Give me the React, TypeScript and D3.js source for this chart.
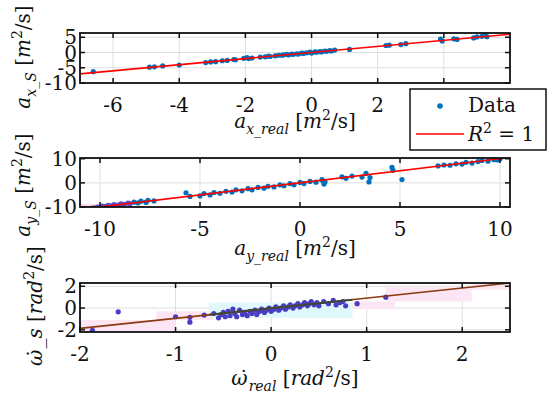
import React from 'react';
import * as d3 from 'd3';

// panel 1: a_x
const axReal = [-6.6, -4.9, -4.75, -4.5, -4.0, -3.2, -3.05, -2.9, -2.7, -2.55, -2.35, -2.3, -2.05, -1.95, -1.9, -1.8, -1.55, -1.4, -1.3, -1.25, -1.1, -1.0, -0.9, -0.85, -0.75, -0.7, -0.6, -0.55, -0.45, -0.4, -0.3, -0.25, -0.15, -0.05, 0.0, 0.1, 0.15, 0.25, 0.3, 0.4, 0.45, 0.55, 0.6, 0.7, 1.15, 2.25, 2.35, 2.7, 2.85, 3.9, 3.95, 4.3, 4.4, 4.9, 5.0, 5.15, 5.25, 5.3];
const axSim = [-6.3, -4.8, -4.7, -4.4, -4.1, -3.3, -3.1, -3.0, -2.7, -2.6, -2.3, -2.4, -1.9, -1.7, -2.0, -1.8, -1.5, -1.4, -1.2, -1.3, -1.1, -0.9, -0.9, -0.8, -0.6, -0.8, -0.5, -0.6, -0.4, -0.5, -0.2, -0.3, -0.1, 0.1, -0.2, 0.2, 0.1, 0.3, 0.2, 0.5, 0.4, 0.6, 0.5, 0.8, 1.0, 2.3, 2.4, 2.6, 2.9, 4.4, 3.8, 4.5, 4.3, 4.8, 5.1, 5.3, 5.6, 5.2];

// panel 2: a_y
const ayReal = [-10.1, -9.9, -9.75, -9.6, -9.45, -9.3, -9.1, -8.95, -8.8, -8.6, -8.5, -8.3, -8.1, -7.95, -7.7, -7.6, -7.3, -5.7, -5.5, -5.0, -4.8, -4.5, -4.3, -4.0, -3.7, -3.4, -3.2, -2.9, -2.6, -2.4, -2.1, -1.8, -1.6, -1.3, -1.0, -0.8, -0.5, -0.3, 0.0, 0.2, 0.5, 0.8, 1.1, 1.15, 1.2, 1.25, 2.1, 2.3, 2.6, 3.1, 3.3, 3.45, 3.5, 4.6, 4.65, 5.1, 6.9, 7.2, 7.5, 7.8, 8.1, 8.3, 8.6, 8.9, 9.1, 9.4, 9.7, 9.9, 10.0];
const aySim = [-10.0, -9.6, -9.8, -9.3, -9.5, -9.0, -9.2, -8.7, -8.9, -8.4, -8.7, -8.0, -8.3, -7.6, -8.1, -7.2, -7.5, -4.1, -5.6, -5.4, -4.4, -5.0, -4.0, -4.3, -3.5, -3.8, -2.9, -3.3, -2.4, -2.9, -1.9, -2.2, -1.4, -1.7, -0.8, -1.2, -0.3, -0.8, 0.2, -0.3, 0.6, 0.3, 1.3, 0.8, -0.5, 0.4, 2.5, 1.9, 2.8, 2.4, 3.9, 0.4, 2.2, 6.4, 5.2, 1.4, 7.0, 7.4, 7.3, 7.9, 7.8, 8.5, 8.2, 8.8, 9.3, 9.0, 9.6, 9.5, 10.0];

// panel 3: omega dot
const wReal = [-1.87, -1.6, -1.0, -0.85, -0.85, -0.7, -0.6, -0.55, -0.52, -0.5, -0.48, -0.45, -0.43, -0.4, -0.38, -0.36, -0.33, -0.3, -0.28, -0.25, -0.22, -0.2, -0.17, -0.15, -0.12, -0.1, -0.07, -0.05, -0.02, 0.0, 0.03, 0.05, 0.08, 0.1, 0.13, 0.15, 0.18, 0.2, 0.23, 0.25, 0.28, 0.3, 0.33, 0.35, 0.38, 0.4, 0.42, 0.45, 0.48, 0.5, 0.55, 0.6, 0.65, 0.68, 0.72, 0.75, 0.78, 0.9, 1.2];
const wSim = [-2.05, -0.35, -0.8, -0.85, -1.3, -0.65, -0.5, -0.9, -0.6, -0.4, -0.8, -0.3, -0.7, -0.1, -0.5, -0.8, -0.2, -0.6, -0.4, -0.7, -0.3, -0.5, -0.2, -0.6, -0.3, -0.1, -0.4, -0.2, 0.0, -0.3, -0.1, 0.1, -0.2, 0.0, 0.2, -0.1, 0.1, 0.3, 0.0, 0.2, 0.4, 0.1, 0.3, 0.5, 0.2, 0.4, 0.6, 0.3, 0.5, 0.2, 0.6, 0.4, 0.7, 0.3, 0.5, 0.6, 0.2, 0.4, 1.0];

// shaded bands in panel 3 [x0, x1, y0, y1]
const wBandsPink = [[-2, -1, -2.2, -1.1], [-1.2, -0.6, -1.1, -0.3], [0.85, 1.3, -0.1, 0.6], [1.2, 2.1, 0.6, 1.9], [2.1, 2.5, 1.7, 2.3]];
const wBandsCyan = [[-0.65, 0.85, -0.9, 0.5]];

const F = "DejaVu Serif";

type Part = { t: string; s?: 'i' | 'r' | 'sub' | 'sup' | 'subr' | 'supr' | 'dot' };

const MathText = ({ x, y, parts, size, rotate, anchor }: { x: number; y: number; parts: Part[]; size: number; rotate?: boolean; anchor?: string }) => {
  let shift = 0;
  const spans = parts.map((p, i) => {
    const s = p.s || 'r';
    if (s === 'dot') {
      return <tspan key={i} dx={-size * 0.45} dy={-shift} fontSize={size}>{'˙'}</tspan>;
    }
    let target = 0;
    if (s === 'sub' || s === 'subr') target = size * 0.3;
    if (s === 'sup' || s === 'supr') target = -size * 0.4;
    const dy = target - shift;
    shift = target;
    const small = s.startsWith('sub') || s.startsWith('sup');
    const italic = s === 'i' || s === 'sub' || s === 'sup';
    return (
      <tspan key={i} dy={dy} fontSize={small ? size * 0.7 : size} fontStyle={italic ? 'italic' : 'normal'}>{p.t}</tspan>
    );
  });
  return (
    <text x={x} y={y} fontFamily={F} fontSize={size} textAnchor={anchor || 'middle'} fill="#111"
      transform={rotate ? `rotate(-90,${x},${y})` : undefined} style={{ whiteSpace: 'pre' }}>
      {spans}
    </text>
  );
};

const Panel = ({ box, xDom, yDom, xTicks, yTicks, xs, ys, color, fit, lineColor, children }: any) => {
  const x = d3.scaleLinear().domain(xDom).range([box.x0, box.x1]);
  const y = d3.scaleLinear().domain(yDom).range([box.y1, box.y0]);
  const tl = 5;
  const clipId = `c${box.y0}`;
  return (
    <g>
      <defs>
        <clipPath id={clipId}><rect x={box.x0} y={box.y0} width={box.x1 - box.x0} height={box.y1 - box.y0} /></clipPath>
      </defs>
      <rect x={box.x0} y={box.y0} width={box.x1 - box.x0} height={box.y1 - box.y0} fill="#fff" />
      {xTicks.map((t: number) => <line key={'gx' + t} x1={x(t)} x2={x(t)} y1={box.y0} y2={box.y1} stroke="#dedede" strokeWidth={1} />)}
      {yTicks.map((t: number) => <line key={'gy' + t} x1={box.x0} x2={box.x1} y1={y(t)} y2={y(t)} stroke="#dedede" strokeWidth={1} />)}
      <g clipPath={`url(#${clipId})`}>
        {children && children(x, y)}
        {xs.map((v: number, i: number) => <circle key={i} cx={x(v)} cy={y(ys[i])} r={2.6} fill={typeof color === 'function' ? color(v) : color} />)}
        <line x1={x(xDom[0])} y1={y(fit[0])} x2={x(xDom[1])} y2={y(fit[1])} stroke={lineColor} strokeWidth={1.6} />
      </g>
      {xTicks.map((t: number) => (
        <g key={'tx' + t}>
          <line x1={x(t)} x2={x(t)} y1={box.y1} y2={box.y1 - tl} stroke="#111" strokeWidth={1.5} />
          <line x1={x(t)} x2={x(t)} y1={box.y0} y2={box.y0 + tl} stroke="#111" strokeWidth={1.5} />
          <text x={x(t)} y={box.y1 + 29} fontFamily={F} fontSize={20} textAnchor="middle" fill="#111">{t}</text>
        </g>
      ))}
      {yTicks.map((t: number) => (
        <g key={'ty' + t}>
          <line x1={box.x0} x2={box.x0 + tl} y1={y(t)} y2={y(t)} stroke="#111" strokeWidth={1.5} />
          <line x1={box.x1} x2={box.x1 - tl} y1={y(t)} y2={y(t)} stroke="#111" strokeWidth={1.5} />
          <text x={77} y={y(t)} dy="0.35em" fontFamily={F} fontSize={20} textAnchor="end" fill="#111">{t}</text>
        </g>
      ))}
      <rect x={box.x0} y={box.y0} width={box.x1 - box.x0} height={box.y1 - box.y0} fill="none" stroke="#111" strokeWidth={1.8} />
    </g>
  );
};

const App = () => {
  const blue = '#0072BD';
  return (
    <svg width={550} height={398} style={{ position: 'absolute', left: 0, top: 0, background: '#fff' }}>
      <Panel box={{ x0: 80, x1: 510, y0: 33, y1: 83 }} xDom={[-7, 6]} yDom={[-10, 6.4]}
        xTicks={[-6, -4, -2, 0, 2, 4]} yTicks={[-10, -5, 0, 5]} xs={axReal} ys={axSim}
        color={blue} fit={[-7, 6]} lineColor="#ff0000" />
      <Panel box={{ x0: 80, x1: 510, y0: 158, y1: 207 }} xDom={[-11, 10.5]} yDom={[-10, 10.3]}
        xTicks={[-10, -5, 0, 5, 10]} yTicks={[-10, 0, 10]} xs={ayReal} ys={aySim}
        color={(v: number) => (v < -8.4 ? '#5a48c8' : blue)} fit={[-11, 10.5]} lineColor="#ff0000">
        {(x: any, y: any) => (
          <g>
            <rect x={x(-11)} y={y(-8.7)} width={x(-9.6) - x(-11)} height={y(-10) - y(-8.7)} fill="#fbd3ec" opacity={0.8} />
            <line x1={x(-11)} y1={y(-10.4)} x2={x(-7.7)} y2={y(-7.6)} stroke="#4a3e3a" strokeWidth={2} />
          </g>
        )}
      </Panel>
      <Panel box={{ x0: 80, x1: 510, y0: 283, y1: 332 }} xDom={[-2, 2.5]} yDom={[-2.2, 2.3]}
        xTicks={[-2, -1, 0, 1, 2]} yTicks={[-2, 0, 2]} xs={wReal} ys={wSim}
        color="#4b3cc8" fit={[-1.87, 2.3]} lineColor="#8a3a12">
        {(x: any, y: any) => (
          <g>
            {wBandsPink.map((b, i) => <rect key={'p' + i} x={x(b[0])} y={y(b[3])} width={x(b[1]) - x(b[0])} height={y(b[2]) - y(b[3])} fill="#fde6f3" />)}
            {wBandsCyan.map((b, i) => <rect key={'c' + i} x={x(b[0])} y={y(b[3])} width={x(b[1]) - x(b[0])} height={y(b[2]) - y(b[3])} fill="#def8fb" />)}
          </g>
        )}
      </Panel>
      {/* dark overlay on central fit section of panel 3 */}
      {(() => {
        const x = d3.scaleLinear().domain([-2, 2.5]).range([80, 510]);
        const y = d3.scaleLinear().domain([-2.2, 2.3]).range([332, 283]);
        return <line x1={x(-0.65)} y1={y(-0.65 * 0.927 - 0.02)} x2={x(0.85)} y2={y(0.85 * 0.927 - 0.02)} stroke="#3d4a3a" strokeWidth={2} />;
      })()}

      <MathText x={295} y={128} size={20} parts={[{ t: 'a', s: 'i' }, { t: 'x_real', s: 'sub' }, { t: ' [' }, { t: 'm', s: 'i' }, { t: '2', s: 'supr' }, { t: '/s]' }]} />
      <MathText x={295} y={255} size={20} parts={[{ t: 'a', s: 'i' }, { t: 'y_real', s: 'sub' }, { t: ' [' }, { t: 'm', s: 'i' }, { t: '2', s: 'supr' }, { t: '/s]' }]} />
      <MathText x={295} y={385} size={20} parts={[{ t: 'ω', s: 'i' }, { t: '', s: 'dot' }, { t: 'real', s: 'sub' }, { t: ' [' }, { t: 'rad', s: 'i' }, { t: '2', s: 'supr' }, { t: '/s]' }]} />

      <MathText x={30} y={57} size={20} rotate parts={[{ t: 'a', s: 'i' }, { t: 'x_S', s: 'sub' }, { t: ' [' }, { t: 'm', s: 'i' }, { t: '2', s: 'supr' }, { t: '/s]' }]} />
      <MathText x={30} y={185} size={20} rotate parts={[{ t: 'a', s: 'i' }, { t: 'y_S', s: 'sub' }, { t: ' [' }, { t: 'm', s: 'i' }, { t: '2', s: 'supr' }, { t: '/s]' }]} />
      <MathText x={42} y={306} size={20} rotate parts={[{ t: 'ω', s: 'i' }, { t: '', s: 'dot' }, { t: '_s', s: 'i' }, { t: ' [' }, { t: 'rad', s: 'i' }, { t: '2', s: 'supr' }, { t: '/s]' }]} />

      <g>
        <rect x={410} y={89} width={136} height={61} fill="#fff" stroke="#111" strokeWidth={1.5} />
        <circle cx={440} cy={106} r={2.8} fill={blue} />
        <text x={468} y={112} fontFamily={F} fontSize={20} fill="#111">Data</text>
        <line x1={416} x2={464} y1={134} y2={134} stroke="#ff0000" strokeWidth={1.6} />
        <MathText x={468} y={141} size={20} anchor="start" parts={[{ t: 'R', s: 'i' }, { t: '2', s: 'supr' }, { t: ' = 1' }]} />
      </g>
    </svg>
  );
};

export default App;
